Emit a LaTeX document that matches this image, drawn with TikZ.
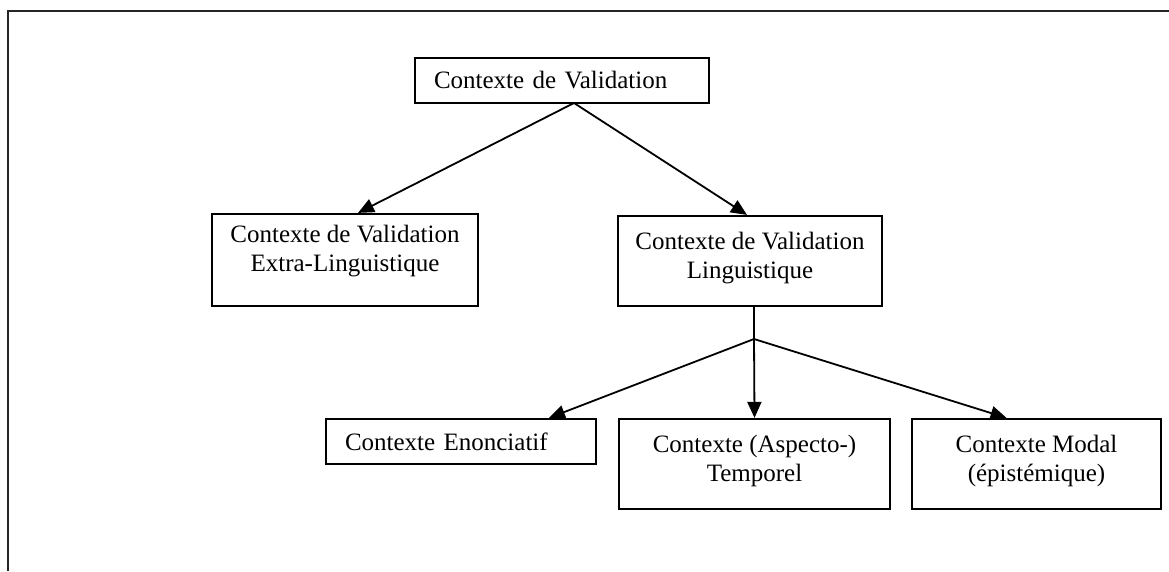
\documentclass[tikz,border=0pt]{standalone}
\usepackage{fontspec}
\setmainfont{Liberation Serif}
\usetikzlibrary{arrows.meta}
\begin{document}
\begin{tikzpicture}[x=1pt,y=-1pt,
    boite/.style={draw,line width=2.2pt,inner sep=0pt,
      font=\fontsize{25}{29}\selectfont},
    deux/.style={boite,minimum height=90pt,text height=18pt,text depth=42pt},
    fleche/.style={line width=1.8pt,-{Triangle[length=16pt,width=14pt]}}]
    \useasboundingbox (0,0) rectangle (1169,571);
    \draw[line width=2.4pt,black!85] (1169,11) -- (8,11) -- (8,571);
    \node[boite,minimum width=294pt,minimum height=45pt,text width=256pt,align=left]
      (valid) at (562,80.5) {\mbox{Contexte de Validation}};
    \node[deux,minimum width=266pt,minimum height=92pt,text depth=54pt]
      (extra) at (345,260) {\begin{tabular}[t]{@{}c@{}}Contexte de Validation\\Extra-Linguistique\end{tabular}};
    \node[deux,minimum width=264pt]
      (ling) at (750,261) {\begin{tabular}[t]{@{}c@{}}Contexte de Validation\\Linguistique\end{tabular}};
    \node[boite,minimum width=270pt,minimum height=45pt,text width=232pt,align=left]
      (enon) at (461,441.5) {\mbox{Contexte Enonciatif}};
    \node[deux,minimum width=271pt]
      (temp) at (754.5,464) {\begin{tabular}[t]{@{}c@{}}Contexte (Aspecto-)\\Temporel\end{tabular}};
    \node[deux,minimum width=249pt]
      (modal) at (1036.5,464) {\begin{tabular}[t]{@{}c@{}}Contexte Modal\\(épistémique)\end{tabular}};
    \coordinate (depart) at (574,103);
    \coordinate (noeud) at (754,339);
    \draw[fleche] (depart) -- ([xshift=13pt]extra.north);
    \draw[fleche] (depart) -- ([xshift=-3pt]ling.north);
    \draw[line width=1.8pt] ([xshift=4pt]ling.south) -- (noeud);
    \draw[fleche] (noeud) -- ([xshift=88pt]enon.north);
    \draw[fleche] (noeud) -- (temp.north);
    \draw[fleche] (noeud) -- ([xshift=-30pt]modal.north);
\end{tikzpicture}
\end{document}
